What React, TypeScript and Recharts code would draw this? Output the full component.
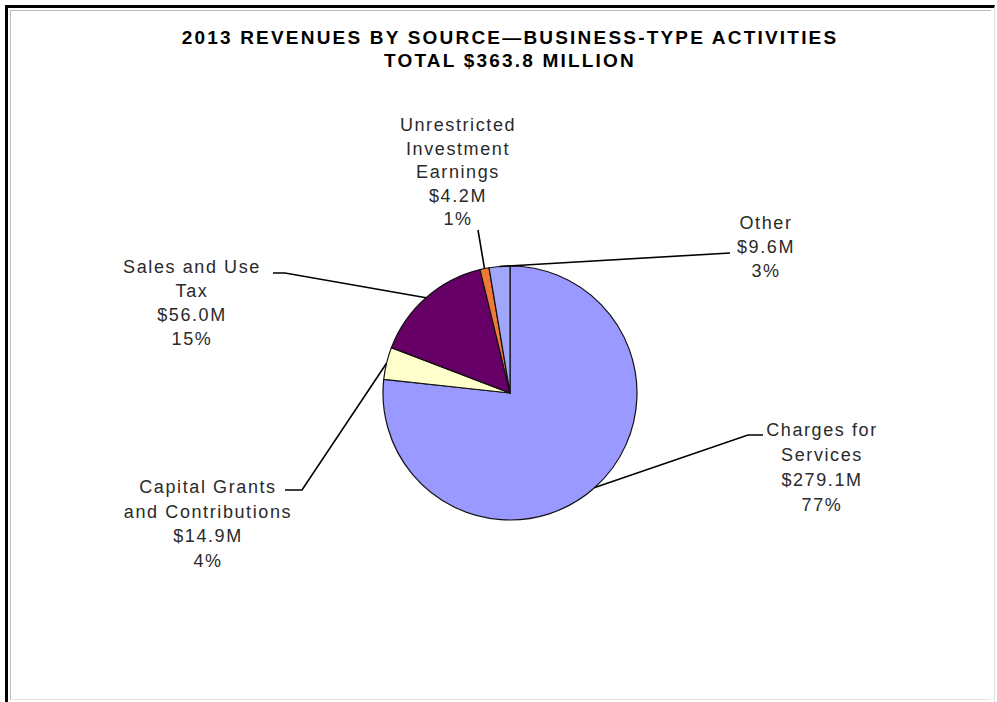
import React from 'react';
import { PieChart, Pie, Cell } from 'recharts';

const categories = [
  'Charges for Services',
  'Capital Grants and Contributions',
  'Sales and Use Tax',
  'Unrestricted Investment Earnings',
  'Other',
];
const amounts = [279.1, 14.9, 56.0, 4.2, 9.6];
const labelLines = [
  ['Charges for', 'Services'],
  ['Capital Grants', 'and Contributions'],
  ['Sales and Use', 'Tax'],
  ['Unrestricted', 'Investment', 'Earnings'],
  ['Other'],
];
const colors = ['#9999FF', '#FFFFCC', '#660066', '#F07838', '#A0A6FA'];

const titleLines = ['2013 REVENUES BY SOURCE\u2014BUSINESS-TYPE ACTIVITIES', 'TOTAL $363.8 MILLION'];

// where each label sits, relative to the pie centre (hand placed like the original)
const labelLayout = [
  { elbow: [238, 42], end: [253, 42], text: [312, 37], gap: 25 },
  { elbow: [-208, 97], end: [-225, 97], text: [-302, 94], gap: 24.5 },
  { elbow: [-225, -120], end: [-237, -120], text: [-318, -126], gap: 24 },
  { elbow: null, end: [-32, -163], text: [-52, -268], gap: 23.5 },
  { elbow: null, end: [220, -140], text: [256, -170], gap: 24 },
];

const data = categories.map((name, i) => ({ name, value: amounts[i] }));

const FONT = '"Liberation Sans", Arial, sans-serif';
const RAD = Math.PI / 180;

function renderLabel(props: any) {
  const { cx, cy, midAngle, outerRadius, index, value, percent } = props;
  const lay = labelLayout[index];
  const sx = cx + outerRadius * Math.cos(-midAngle * RAD);
  const sy = cy + outerRadius * Math.sin(-midAngle * RAD);
  const pts = [[sx, sy]];
  if (lay.elbow) pts.push([cx + lay.elbow[0], cy + lay.elbow[1]]);
  pts.push([cx + lay.end[0], cy + lay.end[1]]);
  const lines = [...labelLines[index], `$${value.toFixed(1)}M`, `${Math.round(percent * 100)}%`];
  return (
    <g key={`lbl-${index}`}>
      <polyline
        points={pts.map((p) => p.join(',')).join(' ')}
        fill="none"
        stroke="#000"
        strokeWidth={1.6}
      />
      {lines.map((t, j) => (
        <text
          key={j}
          x={cx + lay.text[0]}
          y={cy + lay.text[1] + j * lay.gap}
          textAnchor="middle"
          dominantBaseline="central"
          fontFamily={FONT}
          fontSize={18}
          letterSpacing={1.6}
          fill="#2a2a2a"
        >
          {t}
        </text>
      ))}
    </g>
  );
}

export default function App() {
  return (
    <div style={{ position: 'absolute', left: 0, top: 0, width: 997, height: 702, background: '#fff' }}>
      {/* outer frame */}
      <div
        style={{
          position: 'absolute',
          left: 5,
          top: 5,
          width: 986,
          height: 697,
          borderLeft: '3px solid #000',
          borderTop: '3px solid #000',
          borderRight: '1px solid #ddd',
        }}
      />
      <div
        style={{
          position: 'absolute',
          left: 10,
          top: 10,
          width: 980,
          height: 688,
          borderLeft: '1px solid #bbb',
          borderTop: '1px solid #bbb',
          borderBottom: '1px solid #e4e4e4',
        }}
      />
      {titleLines.map((t, i) => (
        <div
          key={i}
          style={{
            position: 'absolute',
            left: 0,
            width: 1020,
            top: 26 + i * 23,
            textAlign: 'center',
            fontFamily: FONT,
            fontWeight: 'bold',
            fontSize: 19,
            letterSpacing: 2.2,
            lineHeight: '23px',
            color: '#000',
          }}
        >
          {t}
        </div>
      ))}
      <div style={{ position: 'absolute', left: 0, top: 0 }}>
        <PieChart width={997} height={702} margin={{ top: 0, right: 0, bottom: 0, left: 0 }}>
          <Pie
            data={data}
            dataKey="value"
            nameKey="name"
            cx={510}
            cy={393}
            outerRadius={127}
            startAngle={90}
            endAngle={-270}
            stroke="#111"
            strokeWidth={1.2}
            label={renderLabel}
            labelLine={false}
            isAnimationActive={false}
          >
            {data.map((d, i) => (
              <Cell key={d.name} fill={colors[i]} />
            ))}
          </Pie>
        </PieChart>
      </div>
    </div>
  );
}
